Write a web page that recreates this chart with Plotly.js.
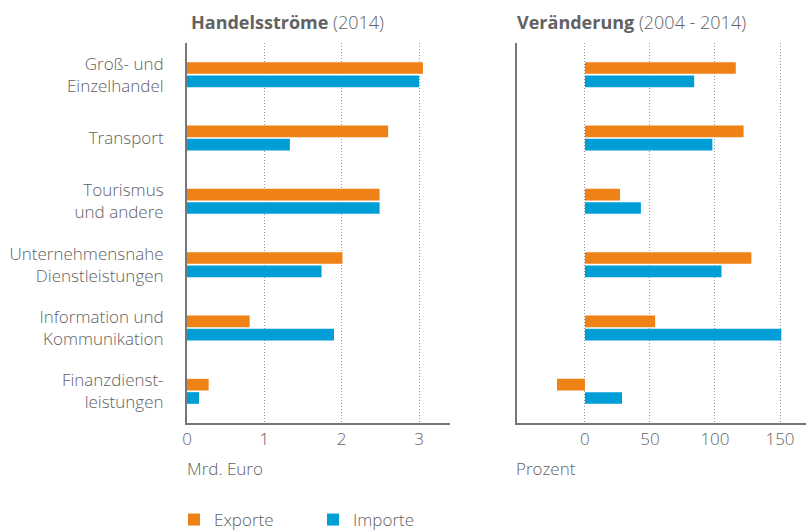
<!DOCTYPE html>
<html>
<head>
<meta charset="utf-8">
<script src="https://cdn.plot.ly/plotly-3.0.1.min.js"></script>
<style>html,body{margin:0;padding:0;background:#fff;}#chart{width:806px;height:531px;}</style>
</head>
<body>
<div id="chart"></div>
<script>
const categories = ["Groß- und<br>Einzelhandel", "Transport", "Tourismus<br>und andere", "Unternehmensnahe<br>Dienstleistungen", "Information und<br>Kommunikation", "Finanzdienst-<br>leistungen"];
const exportValues = [3.05, 2.60, 2.49, 2.01, 0.81, 0.28];
const importValues = [3.00, 1.33, 2.49, 1.74, 1.90, 0.155];
const exportChange = [116, 122, 27, 128, 54, -21.5];
const importChange = [84, 98, 43, 105, 151, 28.5];
const xTicks1 = [0, 1, 2, 3];
const xTicks2 = [0, 50, 100, 150];

const orange = "#EF8216";
const blue = "#009ED6";
const textColor = "#626262";
const fontFam = "Open Sans, Noto Sans, sans-serif";

const traces = [
  {type: "bar", orientation: "h", name: "Exporte", y: categories, x: exportValues, marker: {color: orange}, xaxis: "x", yaxis: "y", hoverinfo: "x"},
  {type: "bar", orientation: "h", name: "Importe", y: categories, x: importValues, marker: {color: blue}, xaxis: "x", yaxis: "y", hoverinfo: "x"},
  {type: "bar", orientation: "h", name: "Exporte", y: categories, x: exportChange, marker: {color: orange}, xaxis: "x2", yaxis: "y2", showlegend: false, hoverinfo: "x"},
  {type: "bar", orientation: "h", name: "Importe", y: categories, x: importChange, marker: {color: blue}, xaxis: "x2", yaxis: "y2", showlegend: false, hoverinfo: "x"}
];

const W = 806, H = 531;
const yDom = [(H - 423) / H, (H - 43) / H];
const gridStyle = {showgrid: true, gridcolor: "#999999", griddash: "1px,2px", gridwidth: 1};
const lightFont = (s) => ({size: s, color: textColor, family: fontFam, weight: 300});

const layout = {
  width: W, height: H,
  margin: {l: 0, r: 0, t: 0, b: 0, autoexpand: false},
  paper_bgcolor: "#fff", plot_bgcolor: "#fff",
  font: {family: fontFam, color: textColor, size: 17, weight: 300},
  barmode: "group", bargap: 0.58, bargroupgap: 0.125,
  xaxis: Object.assign({domain: [187 / W, 450 / W], range: [0, 3.4], tickvals: xTicks1, ticktext: xTicks1.map(String),
    showline: true, linecolor: "#777", linewidth: 2, zeroline: false, ticks: "", tickfont: lightFont(17), anchor: "y", fixedrange: true}, gridStyle),
  yaxis: {domain: yDom, range: [5.5, -0.5], showline: true, linecolor: "#777", linewidth: 2, showgrid: false, zeroline: false,
    ticks: "outside", ticklen: 18, tickcolor: "rgba(0,0,0,0)", tickfont: lightFont(17), anchor: "x", fixedrange: true},
  xaxis2: Object.assign({domain: [516.7 / W, 1], range: [-52.5, 170], tickvals: xTicks2, ticktext: xTicks2.map(String),
    showline: true, linecolor: "#777", linewidth: 2, zeroline: false, ticks: "", tickfont: lightFont(17), anchor: "y2", fixedrange: true}, gridStyle),
  yaxis2: {domain: yDom, range: [5.5, -0.5], showline: true, linecolor: "#777", linewidth: 2, showgrid: false, zeroline: false,
    showticklabels: false, ticks: "", anchor: "x2", fixedrange: true},
  showlegend: true,
  legend: {orientation: "h", x: 174 / W, y: (H - 520) / H, xanchor: "left", yanchor: "middle", font: lightFont(17),
    entrywidth: 94, entrywidthmode: "pixels", bgcolor: "rgba(0,0,0,0)", traceorder: "normal"},
  annotations: [
    {text: "<b>Handelsströme</b> (2014)", xref: "paper", yref: "paper", x: 189 / W, y: (H - 22) / H, xanchor: "left", yanchor: "middle", showarrow: false, font: lightFont(18)},
    {text: "<b>Veränderung</b> (2004 - 2014)", xref: "paper", yref: "paper", x: 515 / W, y: (H - 22) / H, xanchor: "left", yanchor: "middle", showarrow: false, font: lightFont(18)},
    {text: "Mrd. Euro", xref: "paper", yref: "paper", x: 185 / W, y: (H - 468) / H, xanchor: "left", yanchor: "middle", showarrow: false, font: lightFont(17)},
    {text: "Prozent", xref: "paper", yref: "paper", x: 514 / W, y: (H - 468) / H, xanchor: "left", yanchor: "middle", showarrow: false, font: lightFont(17)}
  ]
};

Plotly.newPlot("chart", traces, layout, {displayModeBar: false, staticPlot: true});
</script>
</body>
</html>
